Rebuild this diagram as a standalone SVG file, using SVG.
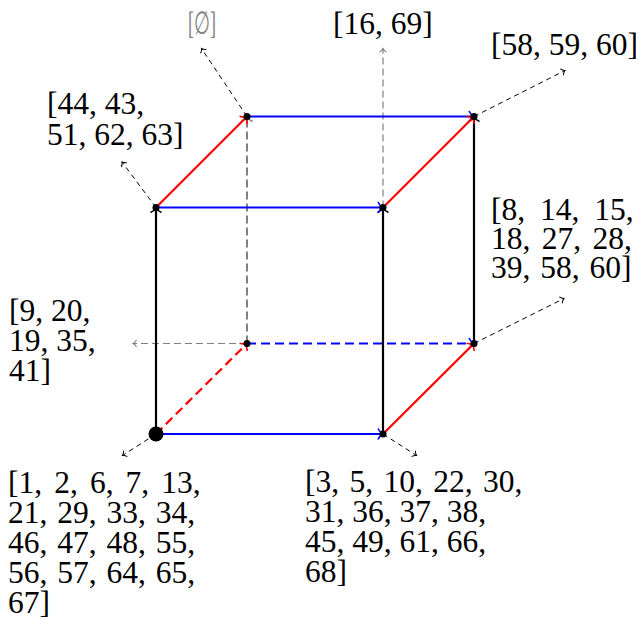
<svg xmlns="http://www.w3.org/2000/svg" width="641" height="626" viewBox="0 0 641 626">
<style>
  text { font-family: "Liberation Serif", "Times New Roman", serif; font-size: 31.5px; fill: #000; }
  .gtxt { fill: #808080; }
  .edge { stroke-width: 2.2; fill: none; }
  .blue { stroke: #0000ff; }
  .red { stroke: #ff0000; }
  .blk { stroke: #000; }
  .gray { stroke: #808080; }
  .dash { stroke-dasharray: 9 5; }
  .gdash { stroke-dasharray: 8 4; stroke-width: 2; }
  .ptr { stroke: #000; stroke-width: 1; fill: none; stroke-dasharray: 5 4; marker-end: url(#ptrBlk); }
  .gptr { stroke: #808080; stroke-width: 1.2; fill: none; stroke-dasharray: 7 4; marker-end: url(#ptrGray); }
  .dot { fill: #000; }
</style>
<defs>
  <marker id="arBlue" markerUnits="userSpaceOnUse" viewBox="-8 -7 10 14" markerWidth="10" markerHeight="14" refX="0" refY="0" orient="auto" overflow="visible">
    <path d="M-5,-5.5 C-3.5,-2 -1,-0.5 0,0 C-1,0.5 -3.5,2 -5,5.5" fill="none" stroke="#0000ff" stroke-width="1.6"/>
  </marker>
  <marker id="arRed" markerUnits="userSpaceOnUse" viewBox="-8 -7 10 14" markerWidth="10" markerHeight="14" refX="0" refY="0" orient="auto" overflow="visible">
    <path d="M-5,-5.5 C-3.5,-2 -1,-0.5 0,0 C-1,0.5 -3.5,2 -5,5.5" fill="none" stroke="#ff0000" stroke-width="1.6"/>
  </marker>
  <marker id="arBlk" markerUnits="userSpaceOnUse" viewBox="-8 -7 10 14" markerWidth="10" markerHeight="14" refX="0" refY="0" orient="auto" overflow="visible">
    <path d="M-5,-5.5 C-3.5,-2 -1,-0.5 0,0 C-1,0.5 -3.5,2 -5,5.5" fill="none" stroke="#000" stroke-width="1.6"/>
  </marker>
  <marker id="arGray" markerUnits="userSpaceOnUse" viewBox="-8 -7 10 14" markerWidth="10" markerHeight="14" refX="0" refY="0" orient="auto" overflow="visible">
    <path d="M-5,-5.5 C-3.5,-2 -1,-0.5 0,0 C-1,0.5 -3.5,2 -5,5.5" fill="none" stroke="#808080" stroke-width="1.6"/>
  </marker>
  <marker id="ptrBlk" markerUnits="userSpaceOnUse" viewBox="-6 -5 8 10" markerWidth="8" markerHeight="10" refX="0" refY="0" orient="auto" overflow="visible">
    <path d="M-3.5,-3.5 C-2.5,-1.5 -0.8,-0.4 0,0 C-0.8,0.4 -2.5,1.5 -3.5,3.5" fill="none" stroke="#000" stroke-width="1"/>
  </marker>
  <marker id="ptrGray" markerUnits="userSpaceOnUse" viewBox="-6 -5 8 10" markerWidth="8" markerHeight="10" refX="0" refY="0" orient="auto" overflow="visible">
    <path d="M-3.5,-3.5 C-2.5,-1.5 -0.8,-0.4 0,0 C-0.8,0.4 -2.5,1.5 -3.5,3.5" fill="none" stroke="#808080" stroke-width="1.1"/>
  </marker>
</defs>

<g id="connectors">
  <!-- pointer arrows to labels -->
  <line class="ptr" x1="156" y1="207.5" x2="122" y2="162"/>
  <line class="ptr" x1="247" y1="116.5" x2="201.5" y2="48.5"/>
  <line class="gptr" x1="383" y1="207.5" x2="383" y2="48.5"/>
  <line class="ptr" x1="474" y1="116.5" x2="565" y2="70.5"/>
  <line class="ptr" x1="474" y1="343.5" x2="564" y2="298.5"/>
  <line class="gptr" x1="247" y1="343.5" x2="133" y2="343.5"/>
  <line class="ptr" x1="156" y1="434" x2="122.5" y2="455.5"/>
  <line class="ptr" x1="383" y1="434" x2="416.5" y2="455.5"/>

  <!-- hidden edges -->
  <line class="edge gray gdash" x1="247" y1="343.5" x2="247" y2="116.5" marker-end="url(#arGray)"/>
  <line class="edge blue dash" x1="247" y1="343.5" x2="474" y2="343.5" marker-end="url(#arBlue)"/>
  <line class="edge red dash" x1="156" y1="434" x2="247" y2="343.5" marker-end="url(#arRed)"/>

  <!-- vertical edges -->
  <line class="edge blk" x1="156" y1="434" x2="156" y2="207.5" marker-end="url(#arBlk)"/>
  <line class="edge blk" x1="383" y1="434" x2="383" y2="207.5" marker-end="url(#arBlk)"/>
  <line class="edge blk" x1="474" y1="343.5" x2="474" y2="116.5" marker-end="url(#arBlk)"/>

  <!-- horizontal edges -->
  <line class="edge blue" x1="156" y1="434" x2="383" y2="434" marker-end="url(#arBlue)"/>
  <line class="edge blue" x1="156" y1="207.5" x2="383" y2="207.5" marker-end="url(#arBlue)"/>
  <line class="edge blue" x1="247" y1="116.5" x2="474" y2="116.5" marker-end="url(#arBlue)"/>

  <!-- depth edges -->
  <line class="edge red" x1="156" y1="207.5" x2="247" y2="116.5" marker-end="url(#arRed)"/>
  <line class="edge red" x1="383" y1="207.5" x2="474" y2="116.5" marker-end="url(#arRed)"/>
  <line class="edge red" x1="383" y1="434" x2="474" y2="343.5" marker-end="url(#arRed)"/>
</g>

<g id="node-front-bottom-left">
  <circle class="dot" cx="156" cy="434" r="7.5"/>
  <text><tspan x="8" y="493" word-spacing="4.2">[1, 2, 6, 7, 13,</tspan><tspan x="8" y="523" word-spacing="2">21, 29, 33, 34,</tspan><tspan x="8" y="553" word-spacing="2">46, 47, 48, 55,</tspan><tspan x="8" y="583" word-spacing="2">56, 57, 64, 65,</tspan><tspan x="8" y="613">67]</tspan></text>
</g>
<g id="node-front-bottom-right">
  <circle class="dot" cx="383" cy="434" r="3.5"/>
  <text><tspan x="305" y="492" word-spacing="2.5">[3, 5, 10, 22, 30,</tspan><tspan x="305" y="522">31, 36, 37, 38,</tspan><tspan x="305" y="552">45, 49, 61, 66,</tspan><tspan x="305" y="582">68]</tspan></text>
</g>
<g id="node-front-top-left">
  <circle class="dot" cx="156" cy="207.5" r="3.5"/>
  <text><tspan x="47" y="114">[44, 43,</tspan><tspan x="47" y="145">51, 62, 63]</tspan></text>
</g>
<g id="node-front-top-right">
  <circle class="dot" cx="383" cy="207.5" r="3.5"/>
  <text x="333" y="34">[16, 69]</text>
</g>
<g id="node-back-top-left">
  <circle class="dot" cx="247" cy="116.5" r="3.5"/>
  <text class="gtxt" x="188" y="34" textLength="28" lengthAdjust="spacingAndGlyphs">[∅]</text>
</g>
<g id="node-back-top-right">
  <circle class="dot" cx="474" cy="116.5" r="3.5"/>
  <text x="491" y="55">[58, 59, 60]</text>
</g>
<g id="node-back-bottom-left">
  <circle class="dot" cx="247" cy="343.5" r="3.5"/>
  <text><tspan x="9" y="321">[9, 20,</tspan><tspan x="9" y="351">19, 35,</tspan><tspan x="9" y="381">41]</tspan></text>
</g>
<g id="node-back-bottom-right">
  <circle class="dot" cx="474" cy="343.5" r="3.5"/>
  <text><tspan x="491" y="220" word-spacing="7">[8, 14, 15,</tspan><tspan x="491" y="249" word-spacing="3.5">18, 27, 28,</tspan><tspan x="491" y="278" word-spacing="2">39, 58, 60]</tspan></text>
</g>
</svg>
